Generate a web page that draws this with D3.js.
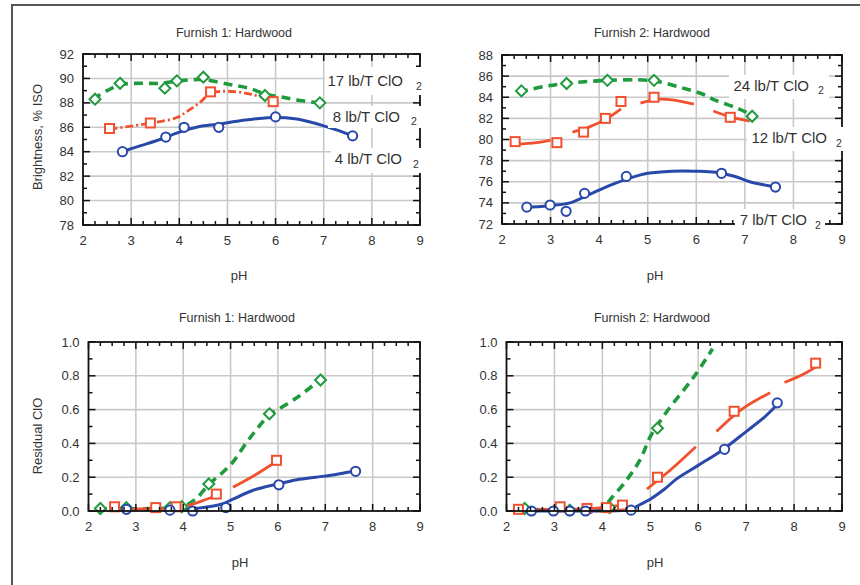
<!DOCTYPE html>
<html>
<head>
<meta charset="utf-8">
<script src="https://cdn.jsdelivr.net/npm/d3@7/dist/d3.min.js"></script>
<style>
  body { margin: 0; background: #fff; }
  svg { display: block; }
  text { font-family: "Liberation Sans", Arial, Helvetica, sans-serif; fill: #333; }
</style>
</head>
<body>
<svg id="chart" width="860" height="585"></svg>
<script>
// ---- shared axis ticks ----
const phTicks = [2, 3, 4, 5, 6, 7, 8, 9];
const brightTicks1 = [78, 80, 82, 84, 86, 88, 90, 92];
const brightTicks2 = [72, 74, 76, 78, 80, 82, 84, 86, 88];
const residualTicks = [0.0, 0.2, 0.4, 0.6, 0.8, 1.0];

// ---- Furnish 1: brightness vs pH ----
const f1High = [[2.25, 88.3], [2.77, 89.6], [3.7, 89.2], [3.95, 89.8], [4.5, 90.1], [5.78, 88.6], [6.92, 88.0]];
const f1HighFit = [[2.2, 88.3], [2.5, 89.0], [2.8, 89.5], [3.2, 89.6], [3.6, 89.6], [4.0, 89.8], [4.5, 89.9], [5.05, 89.5], [5.45, 89.2], [5.8, 88.7], [6.1, 88.5], [6.5, 88.2], [6.9, 88.0]];
const f1Mid = [[2.55, 85.9], [3.4, 86.35], [4.65, 88.9], [5.95, 88.1]];
const f1MidFit = [[2.55, 85.85], [3.0, 86.1], [3.5, 86.4], [3.95, 86.8], [4.2, 87.4], [4.45, 88.1], [4.65, 88.8], [5.0, 88.95], [5.5, 88.7], [5.95, 88.2]];
const f1Low = [[2.82, 84.0], [3.72, 85.2], [4.1, 86.0], [4.82, 86.0], [6.0, 86.85], [7.6, 85.3]];
const f1LowFit = [[2.8, 84.0], [3.2, 84.5], [3.6, 85.0], [4.0, 85.6], [4.4, 86.05], [4.8, 86.25], [5.2, 86.5], [5.6, 86.7], [6.0, 86.8], [6.4, 86.7], [6.8, 86.35], [7.05, 86.05], [7.3, 85.75], [7.6, 85.3]];
const f1Labels = ["17 lb/T ClO", "8 lb/T ClO", "4 lb/T ClO"];

// ---- Furnish 2: brightness vs pH ----
const f2High = [[2.4, 84.6], [3.33, 85.3], [4.17, 85.6], [5.13, 85.6], [7.15, 82.2]];
const f2HighFit = [[2.35, 84.5], [2.85, 85.0], [3.3, 85.3], [3.8, 85.5], [4.2, 85.6], [4.8, 85.65], [5.2, 85.5], [5.7, 84.9], [6.1, 84.35], [6.4, 83.7], [6.85, 82.95], [7.15, 82.3]];
const f2Mid = [[2.27, 79.8], [3.13, 79.7], [3.68, 80.7], [4.13, 82.0], [4.45, 83.6], [5.13, 84.0], [6.7, 82.1]];
const f2MidFit = [[2.3, 79.55], [2.7, 79.7], [3.0, 79.95], null,
                  [3.45, 80.7], [3.8, 81.2], [4.15, 81.95], [4.45, 82.9], null,
                  [4.85, 83.45], [5.2, 83.8], [5.5, 83.75], [5.95, 83.35], null,
                  [6.35, 82.7], [6.7, 82.15], [7.1, 81.75]];
const f2Low = [[2.51, 73.6], [2.99, 73.8], [3.32, 73.2], [3.7, 74.9], [4.56, 76.5], [6.52, 76.8], [7.63, 75.5]];
const f2LowFit = [[2.5, 73.6], [2.8, 73.65], [3.0, 73.75], [3.4, 74.0], [3.8, 74.8], [4.25, 75.7], [4.6, 76.3], [5.0, 76.8], [5.5, 77.0], [6.0, 77.0], [6.4, 76.9], [6.8, 76.5], [7.1, 76.0], [7.65, 75.5]];
const f2Labels = ["24 lb/T ClO", "12 lb/T ClO", "7 lb/T ClO"];

// ---- Furnish 1: residual ClO2 vs pH ----
const r1High = [[2.25, 0.015], [2.8, 0.02], [3.72, 0.02], [3.97, 0.025], [4.54, 0.16], [5.82, 0.575], [6.9, 0.775]];
const r1HighFit = [[2.2, 0.015], [2.8, 0.012], [3.5, 0.015], [3.9, 0.02], [4.1, 0.04], [4.3, 0.08], [4.55, 0.16], [4.8, 0.22], [5.05, 0.29], [5.35, 0.41], [5.6, 0.5], [5.82, 0.57], [6.0, 0.6], [6.45, 0.68], [6.9, 0.78]];
const r1Mid = [[2.55, 0.025], [3.42, 0.02], [3.85, 0.025], [4.7, 0.1], [5.97, 0.3]];
const r1MidFit = [[2.55, 0.015], [3.2, 0.012], [3.8, 0.015], [4.0, 0.025], [4.3, 0.05], [4.7, 0.09], null,
                  [5.05, 0.14], [5.5, 0.21], [5.95, 0.29]];
const r1Low = [[2.8, 0.01], [3.72, 0.005], [4.2, 0.0], [4.9, 0.02], [6.02, 0.155], [7.64, 0.235]];
const r1LowFit = [[3.6, 0.005], [4.0, 0.008], [4.4, 0.02], [4.8, 0.04], [5.05, 0.07], [5.45, 0.12], [6.0, 0.16], [6.4, 0.185], [6.8, 0.2], [7.2, 0.215], [7.6, 0.235]];

// ---- Furnish 2: residual ClO2 vs pH ----
const r2High = [[2.38, 0.015], [3.32, 0.005], [4.15, 0.02], [5.15, 0.49]];
const r2HighFit = [[2.3, 0.015], [2.8, 0.005], [3.4, 0.0], [3.9, 0.005], [4.05, 0.03], [4.2, 0.08], [4.5, 0.18], [4.8, 0.31], [5.0, 0.44], [5.35, 0.59], [5.9, 0.79], [6.3, 0.96]];
const r2Mid = [[2.25, 0.01], [3.12, 0.025], [3.68, 0.015], [4.08, 0.02], [4.42, 0.035], [5.15, 0.2], [6.75, 0.59], [8.45, 0.875]];
const r2MidFit = [[2.25, 0.01], [3.0, 0.01], [3.6, 0.012], [4.0, 0.02], [4.5, 0.04], null,
                  [4.93, 0.13], [5.45, 0.25], [5.95, 0.38], null,
                  [6.38, 0.47], [6.9, 0.6], [7.5, 0.7], null,
                  [7.8, 0.76], [8.2, 0.81], [8.5, 0.86]];
const r2Low = [[2.52, 0.0], [2.98, 0.0], [3.32, 0.0], [3.65, 0.0], [4.6, 0.005], [6.55, 0.365], [7.65, 0.64]];
const r2LowFit = [[2.5, 0.0], [3.5, 0.0], [4.4, 0.003], [4.6, 0.01], [4.8, 0.04], [5.0, 0.07], [5.3, 0.13], [5.55, 0.19], [6.0, 0.27], [6.5, 0.36], [7.0, 0.47], [7.4, 0.56], [7.65, 0.63]];

// ---- styling ----
const GREEN = "#1f9a3d", RED = "#f2512f", BLUE = "#2848aa";
const GRID = "#c9c9c9";

const svg = d3.select("#chart");

// outer page frame (left and top edges)
svg.append("path")
  .attr("d", "M12,585 L12,5 L860,5")
  .attr("fill", "none").attr("stroke", "#555").attr("stroke-width", 2);

function diamondPath(s) {
  return `M0,${-s} L${s},0 L0,${s} L${-s},0 Z`;
}

function drawPanel(cfg) {
  const x = d3.scaleLinear().domain([2, 9]).range([cfg.left, cfg.right]);
  const y = d3.scaleLinear().domain(cfg.yDomain).range([cfg.bottom, cfg.top]);
  const g = svg.append("g");

  // grid
  g.append("g").selectAll("line.gx").data(phTicks.slice(1, -1)).join("line")
    .attr("x1", d => x(d)).attr("x2", d => x(d))
    .attr("y1", cfg.top).attr("y2", cfg.bottom)
    .attr("stroke", GRID).attr("stroke-width", 1.6);
  g.append("g").selectAll("line.gy").data(cfg.yTicks.slice(1, -1)).join("line")
    .attr("y1", d => y(d)).attr("y2", d => y(d))
    .attr("x1", cfg.left).attr("x2", cfg.right)
    .attr("stroke", GRID).attr("stroke-width", 1.6);

  // fitted curves
  const line = d3.line()
    .defined(d => d !== null)
    .x(d => x(d[0])).y(d => y(d[1]))
    .curve(d3.curveCatmullRom.alpha(0.5));

  cfg.series.forEach(s => {
    g.append("path").datum(s.fit)
      .attr("d", line)
      .attr("fill", "none")
      .attr("stroke", s.color)
      .attr("stroke-width", s.width)
      .attr("stroke-dasharray", s.dash || null)
      .attr("stroke-linecap", "butt");
  });

  // markers
  cfg.series.forEach(s => {
    const mg = g.append("g");
    const pts = mg.selectAll("g").data(s.points).join("g")
      .attr("transform", d => `translate(${x(d[0])},${y(d[1])})`);
    if (s.marker === "circle") {
      pts.append("circle").attr("r", 4.6);
    } else if (s.marker === "square") {
      pts.append("rect").attr("x", -4.5).attr("y", -4.5).attr("width", 9).attr("height", 9);
    } else {
      pts.append("path").attr("d", diamondPath(5.5));
    }
    pts.selectAll("*").attr("fill", "#fff").attr("stroke", s.color).attr("stroke-width", 2);
  });

  // frame
  g.append("rect")
    .attr("x", cfg.left).attr("y", cfg.top)
    .attr("width", cfg.right - cfg.left).attr("height", cfg.bottom - cfg.top)
    .attr("fill", "none").attr("stroke", "#111").attr("stroke-width", 1.8);

  // inward ticks on all four sides
  const xMinor = d3.range(8, 37).map(i => i / 4);
  const ticks = g.append("g").attr("stroke", "#111").attr("stroke-width", 1.5);
  xMinor.forEach(v => {
    const len = Number.isInteger(v) ? 7 : 4;
    ticks.append("line").attr("x1", x(v)).attr("x2", x(v)).attr("y1", cfg.bottom).attr("y2", cfg.bottom - len);
    ticks.append("line").attr("x1", x(v)).attr("x2", x(v)).attr("y1", cfg.top).attr("y2", cfg.top + len);
  });
  const step = cfg.yTicks[1] - cfg.yTicks[0];
  const n = Math.round((cfg.yDomain[1] - cfg.yDomain[0]) / (step / 2));
  for (let i = 0; i <= n; i++) {
    const v = cfg.yDomain[0] + i * step / 2;
    const len = i % 2 === 0 ? 7 : 4;
    ticks.append("line").attr("y1", y(v)).attr("y2", y(v)).attr("x1", cfg.left).attr("x2", cfg.left + len);
    ticks.append("line").attr("y1", y(v)).attr("y2", y(v)).attr("x1", cfg.right).attr("x2", cfg.right - len);
  }

  // tick labels
  g.append("g").selectAll("text").data(phTicks).join("text")
    .attr("x", d => x(d)).attr("y", cfg.bottom + 20)
    .attr("text-anchor", "middle").attr("font-size", 13)
    .text(d => d);
  g.append("g").selectAll("text").data(cfg.yTicks).join("text")
    .attr("x", cfg.left - 9).attr("y", d => y(d) + 4.5)
    .attr("text-anchor", "end").attr("font-size", 13)
    .text(d => cfg.yFormat(d));

  // titles
  g.append("text").attr("x", cfg.titleX).attr("y", cfg.titleY)
    .attr("text-anchor", "middle").attr("font-size", 12.5).text(cfg.title);
  g.append("text").attr("x", cfg.phX).attr("y", cfg.phY)
    .attr("text-anchor", "middle").attr("font-size", 13).text("pH");
  if (cfg.yTitle) {
    g.append("text")
      .attr("transform", `translate(${cfg.yTitleX},${cfg.yTitleY}) rotate(-90)`)
      .attr("text-anchor", "middle").attr("font-size", 13).text(cfg.yTitle);
  }

  // dose labels with white backing boxes
  (cfg.labels || []).forEach(lb => {
    const lg = svg.append("g");
    lg.append("rect")
      .attr("x", lb.box[0]).attr("y", lb.box[1])
      .attr("width", lb.box[2]).attr("height", lb.box[3])
      .attr("fill", "#fff");
    lg.append("text").attr("x", lb.x).attr("y", lb.y)
      .attr("text-anchor", "end").attr("font-size", 15).text(lb.text);
    lg.append("text").attr("x", lb.sx).attr("y", lb.sy)
      .attr("font-size", 10.5).text("2");
  });
}

const highStyle = { color: GREEN, width: 3.6, dash: "9,6", marker: "diamond" };
const lowStyle = { color: BLUE, width: 3, marker: "circle" };

drawPanel({
  left: 83, right: 420, top: 54, bottom: 225,
  yDomain: [78, 92], yTicks: brightTicks1, yFormat: d => d,
  title: "Furnish 1: Hardwood", titleX: 234, titleY: 37,
  phX: 239, phY: 280,
  yTitle: "Brightness, % ISO", yTitleX: 42, yTitleY: 137,
  series: [
    Object.assign({ points: f1High, fit: f1HighFit }, highStyle),
    { points: f1Mid, fit: f1MidFit, color: RED, width: 2.8, dash: "8,3,2,3", marker: "square" },
    Object.assign({ points: f1Low, fit: f1LowFit }, lowStyle)
  ],
  labels: [
    { text: f1Labels[0], x: 403, y: 86, sx: 416, sy: 90, box: [325, 67, 102, 28] },
    { text: f1Labels[1], x: 400, y: 122, sx: 411, sy: 125, box: [328, 106, 96, 22] },
    { text: f1Labels[2], x: 402, y: 164, sx: 413, sy: 168, box: [331, 148, 94, 25] }
  ]
});

drawPanel({
  left: 502, right: 842, top: 55, bottom: 224,
  yDomain: [72, 88], yTicks: brightTicks2, yFormat: d => d,
  title: "Furnish 2: Hardwood", titleX: 652, titleY: 37,
  phX: 655, phY: 280,
  series: [
    Object.assign({ points: f2High, fit: f2HighFit }, highStyle),
    { points: f2Mid, fit: f2MidFit, color: RED, width: 2.8, marker: "square" },
    Object.assign({ points: f2Low, fit: f2LowFit }, lowStyle)
  ],
  labels: [
    { text: f2Labels[0], x: 809, y: 91, sx: 818, sy: 94, box: [729, 75, 100, 24] },
    { text: f2Labels[1], x: 827, y: 143, sx: 836, sy: 147, box: [747, 127, 100, 24] },
    { text: f2Labels[2], x: 807, y: 225, sx: 815, sy: 229, box: [735, 209, 90, 24] }
  ]
});

drawPanel({
  left: 88.5, right: 420, top: 342, bottom: 511,
  yDomain: [0, 1], yTicks: residualTicks, yFormat: d3.format(".1f"),
  title: "Furnish 1: Hardwood", titleX: 237, titleY: 322,
  phX: 240, phY: 567,
  yTitle: "Residual ClO", yTitleX: 42, yTitleY: 436,
  series: [
    Object.assign({ points: r1High, fit: r1HighFit }, highStyle),
    { points: r1Mid, fit: r1MidFit, color: RED, width: 2.8, marker: "square" },
    Object.assign({ points: r1Low, fit: r1LowFit }, lowStyle)
  ]
});

drawPanel({
  left: 506.5, right: 842, top: 342, bottom: 511,
  yDomain: [0, 1], yTicks: residualTicks, yFormat: d3.format(".1f"),
  title: "Furnish 2: Hardwood", titleX: 652, titleY: 322,
  phX: 655, phY: 567,
  series: [
    Object.assign({ points: r2High, fit: r2HighFit }, highStyle),
    { points: r2Mid, fit: r2MidFit, color: RED, width: 2.8, marker: "square" },
    Object.assign({ points: r2Low, fit: r2LowFit }, lowStyle)
  ]
});
</script>
</body>
</html>
